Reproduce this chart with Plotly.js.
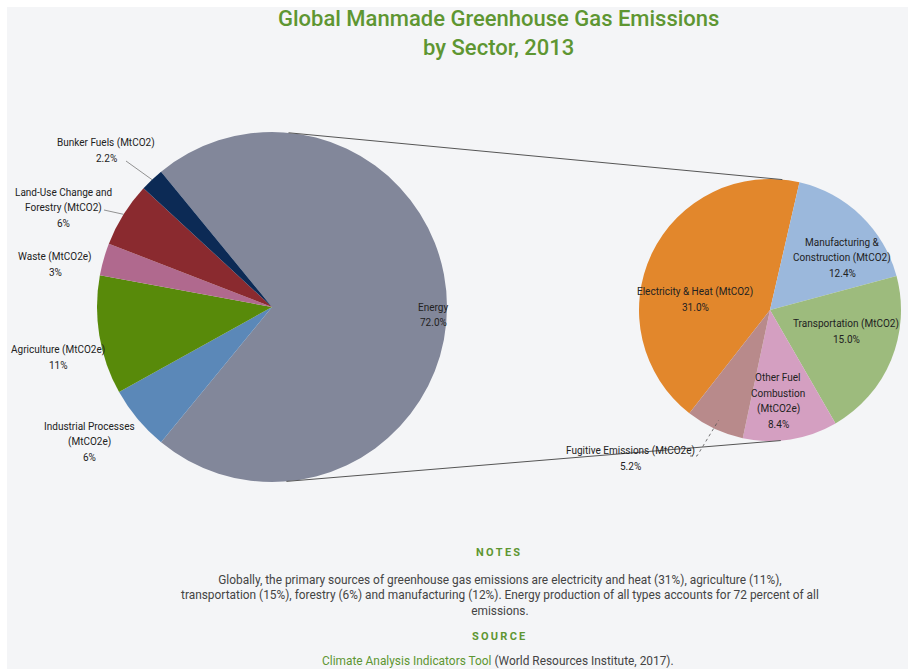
<!DOCTYPE html>
<html>
<head>
<meta charset="utf-8">
<script src="https://cdn.plot.ly/plotly-3.0.1.min.js"></script>
<style>
  html, body { margin: 0; padding: 0; background: #ffffff; }
  #chart { width: 908px; height: 669px; }
</style>
</head>
<body>
<div id="chart"></div>
<script>
// ---------- DATA ----------
const sectorLabels = [
  'Energy',
  'Industrial Processes (MtCO2e)',
  'Agriculture (MtCO2e)',
  'Waste (MtCO2e)',
  'Land-Use Change and Forestry (MtCO2)',
  'Bunker Fuels (MtCO2)'
];
const sectorValues = [72.0, 6, 11, 3, 6, 2.2];
const sectorPctText = ['72.0%', '6%', '11%', '3%', '6%', '2.2%'];
const sectorDisplay = [
  'Energy',
  'Industrial Processes<br>(MtCO2e)',
  'Agriculture (MtCO2e)',
  'Waste (MtCO2e)',
  'Land-Use Change and<br>Forestry (MtCO2)',
  'Bunker Fuels (MtCO2)'
];

const energyLabels = [
  'Electricity & Heat (MtCO2)',
  'Manufacturing & Construction (MtCO2)',
  'Transportation (MtCO2)',
  'Other Fuel Combustion (MtCO2e)',
  'Fugitive Emissions (MtCO2e)'
];
const energyValues = [31.0, 12.4, 15.0, 8.4, 5.2];
const energyPctText = ['31.0%', '12.4%', '15.0%', '8.4%', '5.2%'];
const energyDisplay = [
  'Electricity & Heat (MtCO2)',
  'Manufacturing &<br>Construction (MtCO2)',
  'Transportation (MtCO2)',
  'Other Fuel<br>Combustion<br>(MtCO2e)',
  'Fugitive Emissions (MtCO2e)'
];

const titleText = 'Global Manmade Greenhouse Gas Emissions<br>by Sector, 2013';
const notesHeading = 'NOTES';
const notesText = 'Globally, the primary sources of greenhouse gas emissions are electricity and heat (31%), agriculture (11%),<br>transportation (15%), forestry (6%) and manufacturing (12%). Energy production of all types accounts for 72 percent of all<br>emissions.';
const sourceHeading = 'SOURCE';
const sourceLink = 'Climate Analysis Indicators Tool';
const sourceRest = ' (World Resources Institute, 2017).';

// ---------- STYLE / LAYOUT ----------
const W = 908, H = 669;
const sectorColors = ['#82879a', '#5b88b8', '#588a0a', '#b0698e', '#8a2a2f', '#0c2a55'];
const energyColors = ['#e2872c', '#9bb8dc', '#9dbb7d', '#d49fc1', '#b88a8b'];
const green = '#5e9632';
const labelFont = { family: 'Roboto, sans-serif', size: 10, color: '#222' };
const labelLineGap = 15.5;

const px = x => x / W;
const py = y => 1 - y / H;

// pie geometry (pixels)
const L = { cx: 272, cy: 307, r: 175 };
const R = { cx: 770, cy: 310, r: 131 };

// rotation: centre the Energy slice on 3 o'clock
const totalSector = sectorValues.reduce((a, b) => a + b, 0);
const energyAngle = sectorValues[0] / totalSector * 360;
const leftRotation = 90 - energyAngle / 2;

const totalEnergy = energyValues.reduce((a, b) => a + b, 0);
const elecAngle = energyValues[0] / totalEnergy * 360;
const rightRotation = 13 - elecAngle;

function sliceMid(values, rotation, idx, c) {
  const tot = values.reduce((a, b) => a + b, 0);
  let start = rotation;
  for (let i = 0; i < idx; i++) start += values[i] / tot * 360;
  const mid = (start + values[idx] / tot * 180) * Math.PI / 180;
  return [c.cx + c.r * Math.sin(mid), c.cy - c.r * Math.cos(mid)];
}

// external tangents between the two pies
const dx = R.cx - L.cx, dy = R.cy - L.cy;
const d = Math.hypot(dx, dy);
const base = Math.atan2(dy, dx);
const phi = Math.acos((L.r - R.r) / d);
function tangent(sign) {
  const a = base + sign * phi;
  return [L.cx + L.r * Math.cos(a), L.cy + L.r * Math.sin(a),
          R.cx + R.r * Math.cos(a), R.cy + R.r * Math.sin(a)];
}
const tUp = tangent(-1), tLo = tangent(1);

const shapes = [
  { type: 'rect', xref: 'paper', yref: 'paper', x0: 0, x1: 1, y0: py(7), y1: 1, fillcolor: '#ffffff', line: { width: 0 }, layer: 'below' },
  { type: 'rect', xref: 'paper', yref: 'paper', x0: 0, x1: px(7), y0: 0, y1: 1, fillcolor: '#ffffff', line: { width: 0 }, layer: 'below' },
  { type: 'line', xref: 'paper', yref: 'paper', x0: px(tUp[0]), y0: py(tUp[1]), x1: px(tUp[2]), y1: py(tUp[3]), line: { color: '#555', width: 1 } },
  { type: 'line', xref: 'paper', yref: 'paper', x0: px(tLo[0]), y0: py(tLo[1]), x1: px(tLo[2]), y1: py(tLo[3]), line: { color: '#555', width: 1 } }
];

// leader lines
const bunkerPt = sliceMid(sectorValues, leftRotation, 5, L);
const landPt = sliceMid(sectorValues, leftRotation, 4, L);
const fugPt = sliceMid(energyValues, rightRotation, 4, { cx: R.cx, cy: R.cy, r: R.r * 0.93 });
shapes.push({ type: 'line', xref: 'paper', yref: 'paper', x0: px(126), y0: py(161), x1: px(bunkerPt[0]), y1: py(bunkerPt[1]), line: { color: '#777', width: 0.8 } });
shapes.push({ type: 'line', xref: 'paper', yref: 'paper', x0: px(104), y0: py(210), x1: px(landPt[0]), y1: py(landPt[1]), line: { color: '#777', width: 0.8 } });
shapes.push({ type: 'path', xref: 'paper', yref: 'paper',
  path: `M ${px(690)} ${py(456)} L ${px(697)} ${py(456)} L ${px(fugPt[0])} ${py(fugPt[1])}`,
  line: { color: '#555', width: 0.8, dash: 'dot' } });

// label positions (pixels, centre of text block)
const sectorLabelPos = [[433, 315], [89, 442], [58, 358], [55, 265], [63, 208], [106, 151]];
const energyLabelPos = [[695, 300], [842, 258], [846, 332], [778, 401], [630, 459]];

const annotations = [];
function addLabels(display, pct, pos) {
  display.forEach((t, i) => {
    const lines = (t + '<br>' + pct[i]).split('<br>');
    const n = lines.length;
    lines.forEach((line, j) => {
      annotations.push({
        xref: 'paper', yref: 'paper', x: px(pos[i][0]),
        y: py(pos[i][1] + (j - (n - 1) / 2) * labelLineGap),
        xanchor: 'center', yanchor: 'middle', align: 'center', showarrow: false,
        text: line, font: labelFont
      });
    });
  });
}
addLabels(sectorDisplay, sectorPctText, sectorLabelPos);
addLabels(energyDisplay, energyPctText, energyLabelPos);

const spaced = s => s.split('').join('\u2009');
annotations.push({ xref: 'paper', yref: 'paper', x: px(498), y: py(33), xanchor: 'center', yanchor: 'middle', align: 'center', showarrow: false,
  text: titleText, font: { family: 'Roboto, sans-serif', size: 22, color: green, weight: 500 } });
annotations.push({ xref: 'paper', yref: 'paper', x: px(498), y: py(552), xanchor: 'center', yanchor: 'middle', showarrow: false,
  text: '<b>' + spaced(notesHeading) + '</b>', font: { family: 'Roboto, sans-serif', size: 11, color: green } });
annotations.push({ xref: 'paper', yref: 'paper', x: px(500), y: py(595), xanchor: 'center', yanchor: 'middle', align: 'center', showarrow: false,
  text: notesText, font: { family: 'Roboto, sans-serif', size: 11.9, color: '#444' } });
annotations.push({ xref: 'paper', yref: 'paper', x: px(498), y: py(636), xanchor: 'center', yanchor: 'middle', showarrow: false,
  text: '<b>' + spaced(sourceHeading) + '</b>', font: { family: 'Roboto, sans-serif', size: 11, color: green } });
annotations.push({ xref: 'paper', yref: 'paper', x: px(498), y: py(661), xanchor: 'center', yanchor: 'middle', showarrow: false,
  text: '<span style="color:' + green + '">' + sourceLink + '</span>' + sourceRest, font: { family: 'Roboto, sans-serif', size: 11.9, color: '#444' } });

const traces = [
  {
    type: 'pie', labels: sectorLabels, values: sectorValues, sort: false,
    direction: 'clockwise', rotation: leftRotation,
    marker: { colors: sectorColors, line: { width: 0 } },
    textinfo: 'none', hoverinfo: 'label+percent', showlegend: false,
    domain: { x: [px(L.cx - L.r), px(L.cx + L.r)], y: [py(L.cy + L.r), py(L.cy - L.r)] }
  },
  {
    type: 'pie', labels: energyLabels, values: energyValues, sort: false,
    direction: 'clockwise', rotation: rightRotation,
    marker: { colors: energyColors, line: { width: 0 } },
    textinfo: 'none', hoverinfo: 'label+value', showlegend: false,
    domain: { x: [px(R.cx - R.r), px(R.cx + R.r)], y: [py(R.cy + R.r), py(R.cy - R.r)] }
  }
];

const layout = {
  width: W, height: H,
  margin: { l: 0, r: 0, t: 0, b: 0 },
  paper_bgcolor: '#f4f5f7',
  showlegend: false,
  shapes: shapes,
  annotations: annotations
};

Plotly.newPlot('chart', traces, layout, { displayModeBar: false, staticPlot: true });
</script>
</body>
</html>
